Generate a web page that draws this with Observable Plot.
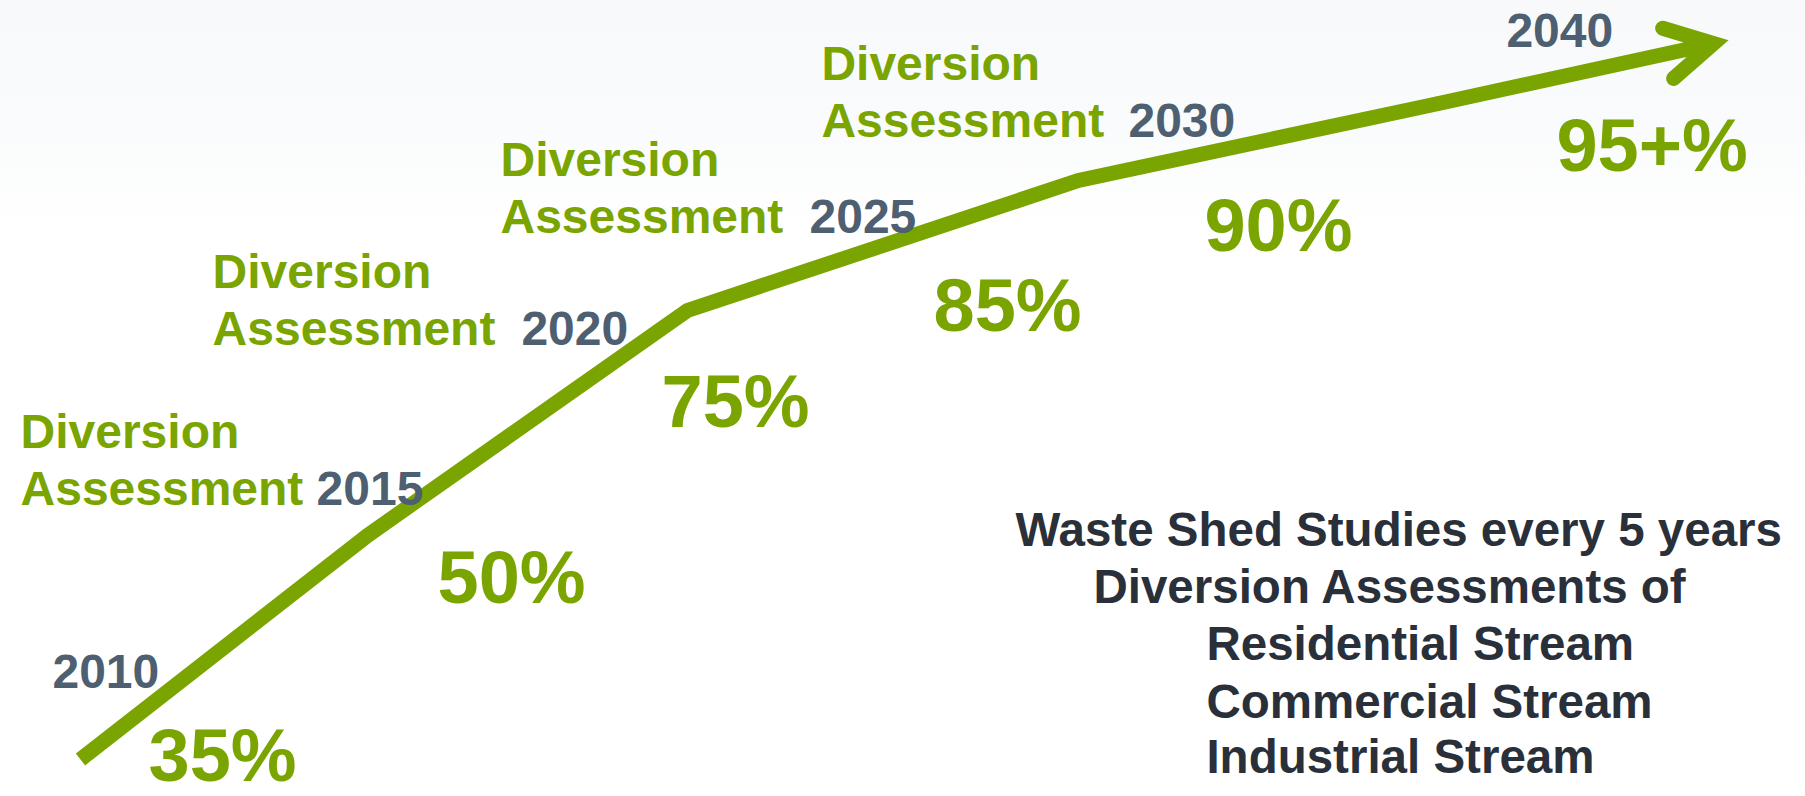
<!DOCTYPE html>
<html>
<head>
<meta charset="utf-8">
<script src="https://cdn.jsdelivr.net/npm/d3@7"></script>
<script src="https://cdn.jsdelivr.net/npm/@observablehq/plot@0.6"></script>
<style>
  html, body { margin: 0; padding: 0; }
  body {
    width: 1805px; height: 796px; overflow: hidden;
    background: linear-gradient(to bottom, #f8f9fb 0px, #fafbfc 130px, #ffffff 230px);
  }
  #chart svg { display: block; }
</style>
</head>
<body>
<div id="chart"></div>
<script>
// ---------- data ----------
const milestoneYears   = ["2010", "2015", "2020", "2025", "2030", "2040"];
const diversionTargets = ["35%", "50%", "75%", "85%", "90%", "95+%"];
// milestone points along the progress path (diagram units 0–100)
const pathX = [4.43, 20.33, 38.06, 59.72, 79.67, 94.90];
const pathY = [4.65, 32.79, 61.06, 77.39, 87.06, 94.60];
const assessmentYears = ["2015", "2020", "2025", "2030"];
const assessmentLabel = "Diversion\nAssessment";
const notes = [
  "Waste Shed Studies every 5 years",
  "Diversion Assessments of",
  "Residential Stream",
  "Commercial Stream",
  "Industrial Stream"
];

// ---------- layout (label anchors, diagram units) ----------
const layout = {
  yearX:   [2.88, 17.51, 28.86, 44.82, 62.49, 83.43],
  yearY:   [13.57, 36.56, 56.66, 70.73, 82.79, 94.10],
  assessX: [1.11, 11.75, 27.70, 45.48],
  assessY: [36.56, 56.66, 70.73, 82.79],
  targetX: [8.20, 24.21, 36.62, 51.69, 66.70, 86.20],
  targetY: [1.95, 24.25, 46.48, 58.42, 68.47, 78.64],
  noteX:   [56.23, 60.55, 66.81, 66.81, 66.81],
  noteY:   [31.53, 24.37, 17.21, 9.92, 2.89]
};

const GREEN = "#7aa500", SLATE = "#4d5f71", DARK = "#2a3039";
const FONT = "'Liberation Sans', Arial, Helvetica, sans-serif";
const idx = d3.range(milestoneYears.length);

const chart = Plot.plot({
  width: 1805,
  height: 796,
  margin: 0,
  x: {domain: [0, 100], axis: null},
  y: {domain: [0, 100], axis: null},
  style: {background: "transparent", overflow: "visible"},
  marks: [
    Plot.line(idx.slice(0, 5), {
      x: (i) => pathX[i], y: (i) => pathY[i],
      stroke: GREEN, strokeWidth: 15,
      strokeLinecap: "butt", strokeLinejoin: "miter", strokeMiterlimit: 4
    }),
    Plot.arrow([4], {
      x1: (i) => pathX[i], y1: (i) => pathY[i],
      x2: (i) => pathX[i + 1], y2: (i) => pathY[i + 1],
      stroke: GREEN, strokeWidth: 15,
      headAngle: 58, headLength: 5.3,
      strokeLinecap: "round", strokeLinejoin: "miter", strokeMiterlimit: 10
    }),
    Plot.text(assessmentYears, {
      x: (d, i) => layout.assessX[i], y: (d, i) => layout.assessY[i],
      text: () => assessmentLabel,
      fill: GREEN, fontSize: 48, fontWeight: "bold", fontFamily: FONT,
      textAnchor: "start", lineAnchor: "bottom", lineHeight: 1.19
    }),
    Plot.text(milestoneYears, {
      x: (d, i) => layout.yearX[i], y: (d, i) => layout.yearY[i],
      fill: SLATE, fontSize: 48, fontWeight: "bold", fontFamily: FONT,
      textAnchor: "start", lineAnchor: "bottom"
    }),
    Plot.text(diversionTargets, {
      x: (d, i) => layout.targetX[i], y: (d, i) => layout.targetY[i],
      fill: GREEN, fontSize: 74, fontWeight: "bold", fontFamily: FONT,
      textAnchor: "start", lineAnchor: "bottom"
    }),
    Plot.text(notes, {
      x: (d, i) => layout.noteX[i], y: (d, i) => layout.noteY[i],
      fill: DARK, fontSize: 47.5, fontWeight: "bold", fontFamily: FONT,
      textAnchor: "start", lineAnchor: "bottom"
    })
  ]
});

document.getElementById("chart").appendChild(chart);
</script>
</body>
</html>
